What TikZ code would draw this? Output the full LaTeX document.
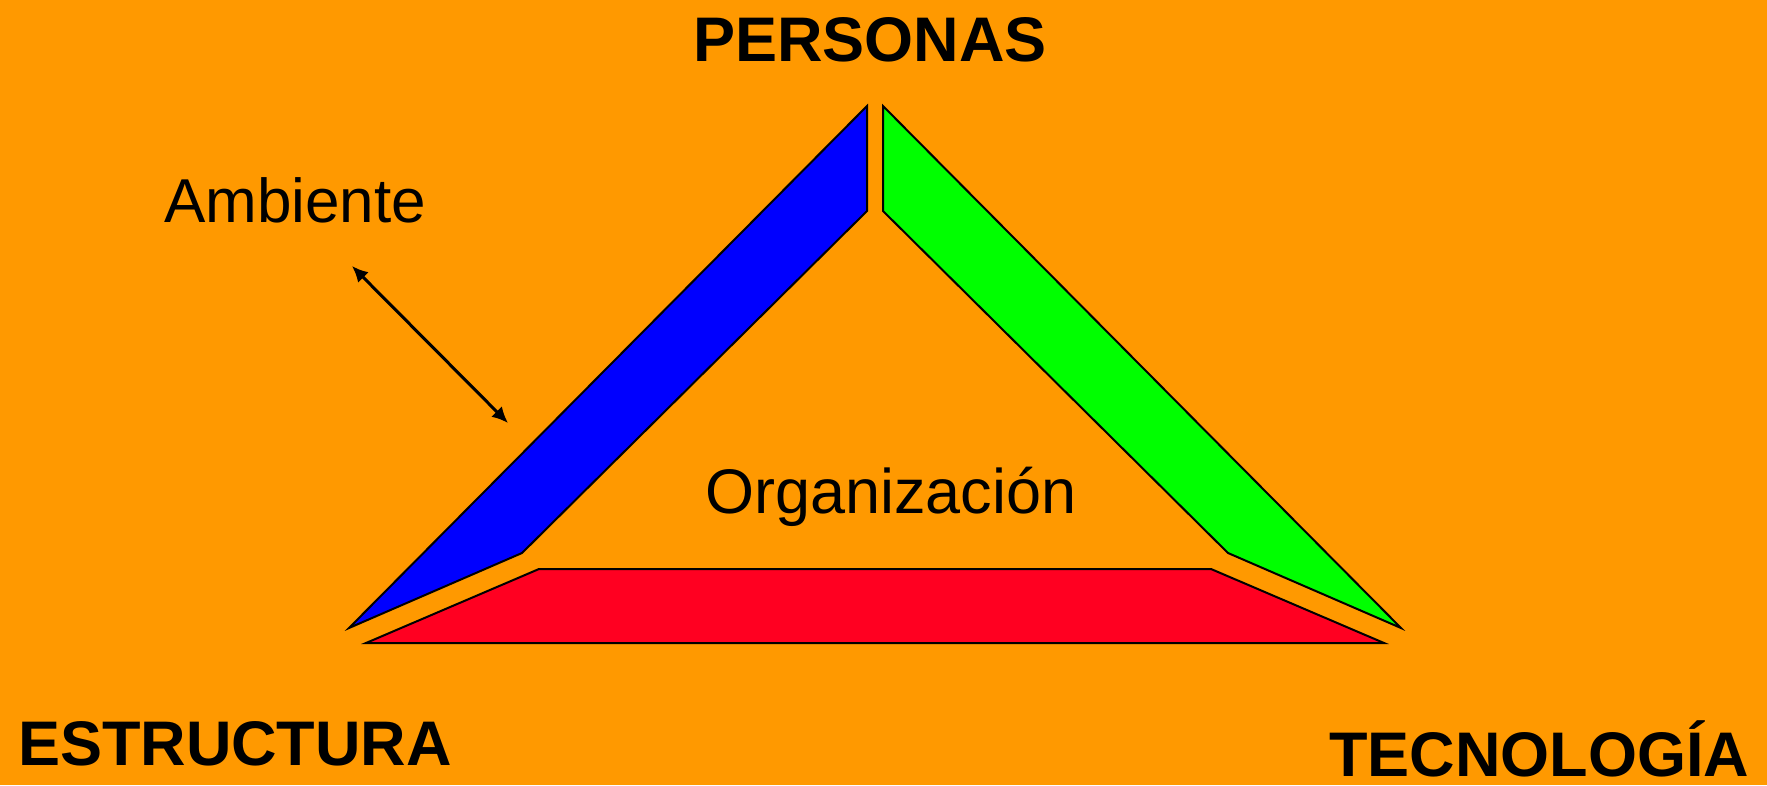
\documentclass[tikz,border=0pt]{standalone}
\usepackage{fontspec}
\setmainfont{Liberation Sans}
\usetikzlibrary{arrows.meta}
\definecolor{fondo}{HTML}{FF9900}
\definecolor{rojo}{HTML}{FF0021}

\begin{document}
\begin{tikzpicture}[x=1pt,y=-1pt,
  titulo/.style={inner sep=0pt, anchor=base, font=\fontsize{63}{70}\selectfont\bfseries},
  texto/.style={inner sep=0pt, anchor=base, font=\fontsize{63}{70}\selectfont},
  lado/.style={draw=black, line width=2pt, line join=miter}]
\fill[fondo] (0,0) rectangle (1767,785);
\useasboundingbox (0,0) rectangle (1767,785);

\filldraw[lado, fill=blue] (867,106) -- (867,211) -- (522,553) -- (349,628) -- cycle;
\filldraw[lado, fill=green] (883,106) -- (883,211) -- (1228,553) -- (1401,628) -- cycle;
\filldraw[lado, fill=rojo] (366,643) -- (539,569) -- (1211,569) -- (1384,643) -- cycle;

\node[titulo] (personas) at (870,61) {PERSONAS};
\node[titulo] (estructura) at (235,765) {ESTRUCTURA};
\node[titulo] (tecnologia) at (1539,776) {TECNOLOGÍA};
\node[texto, font=\fontsize{62}{70}\selectfont] (ambiente) at (295,222) {Ambiente};
\node[texto] (organizacion) at (891,513) {Organización};

\coordinate (afuera) at (352,266);
\coordinate (adentro) at (508,423);
\draw[line width=3pt, {Latex[length=16pt,width=15pt]}-{Latex[length=16pt,width=15pt]}] (afuera) -- (adentro);
\end{tikzpicture}
\end{document}
